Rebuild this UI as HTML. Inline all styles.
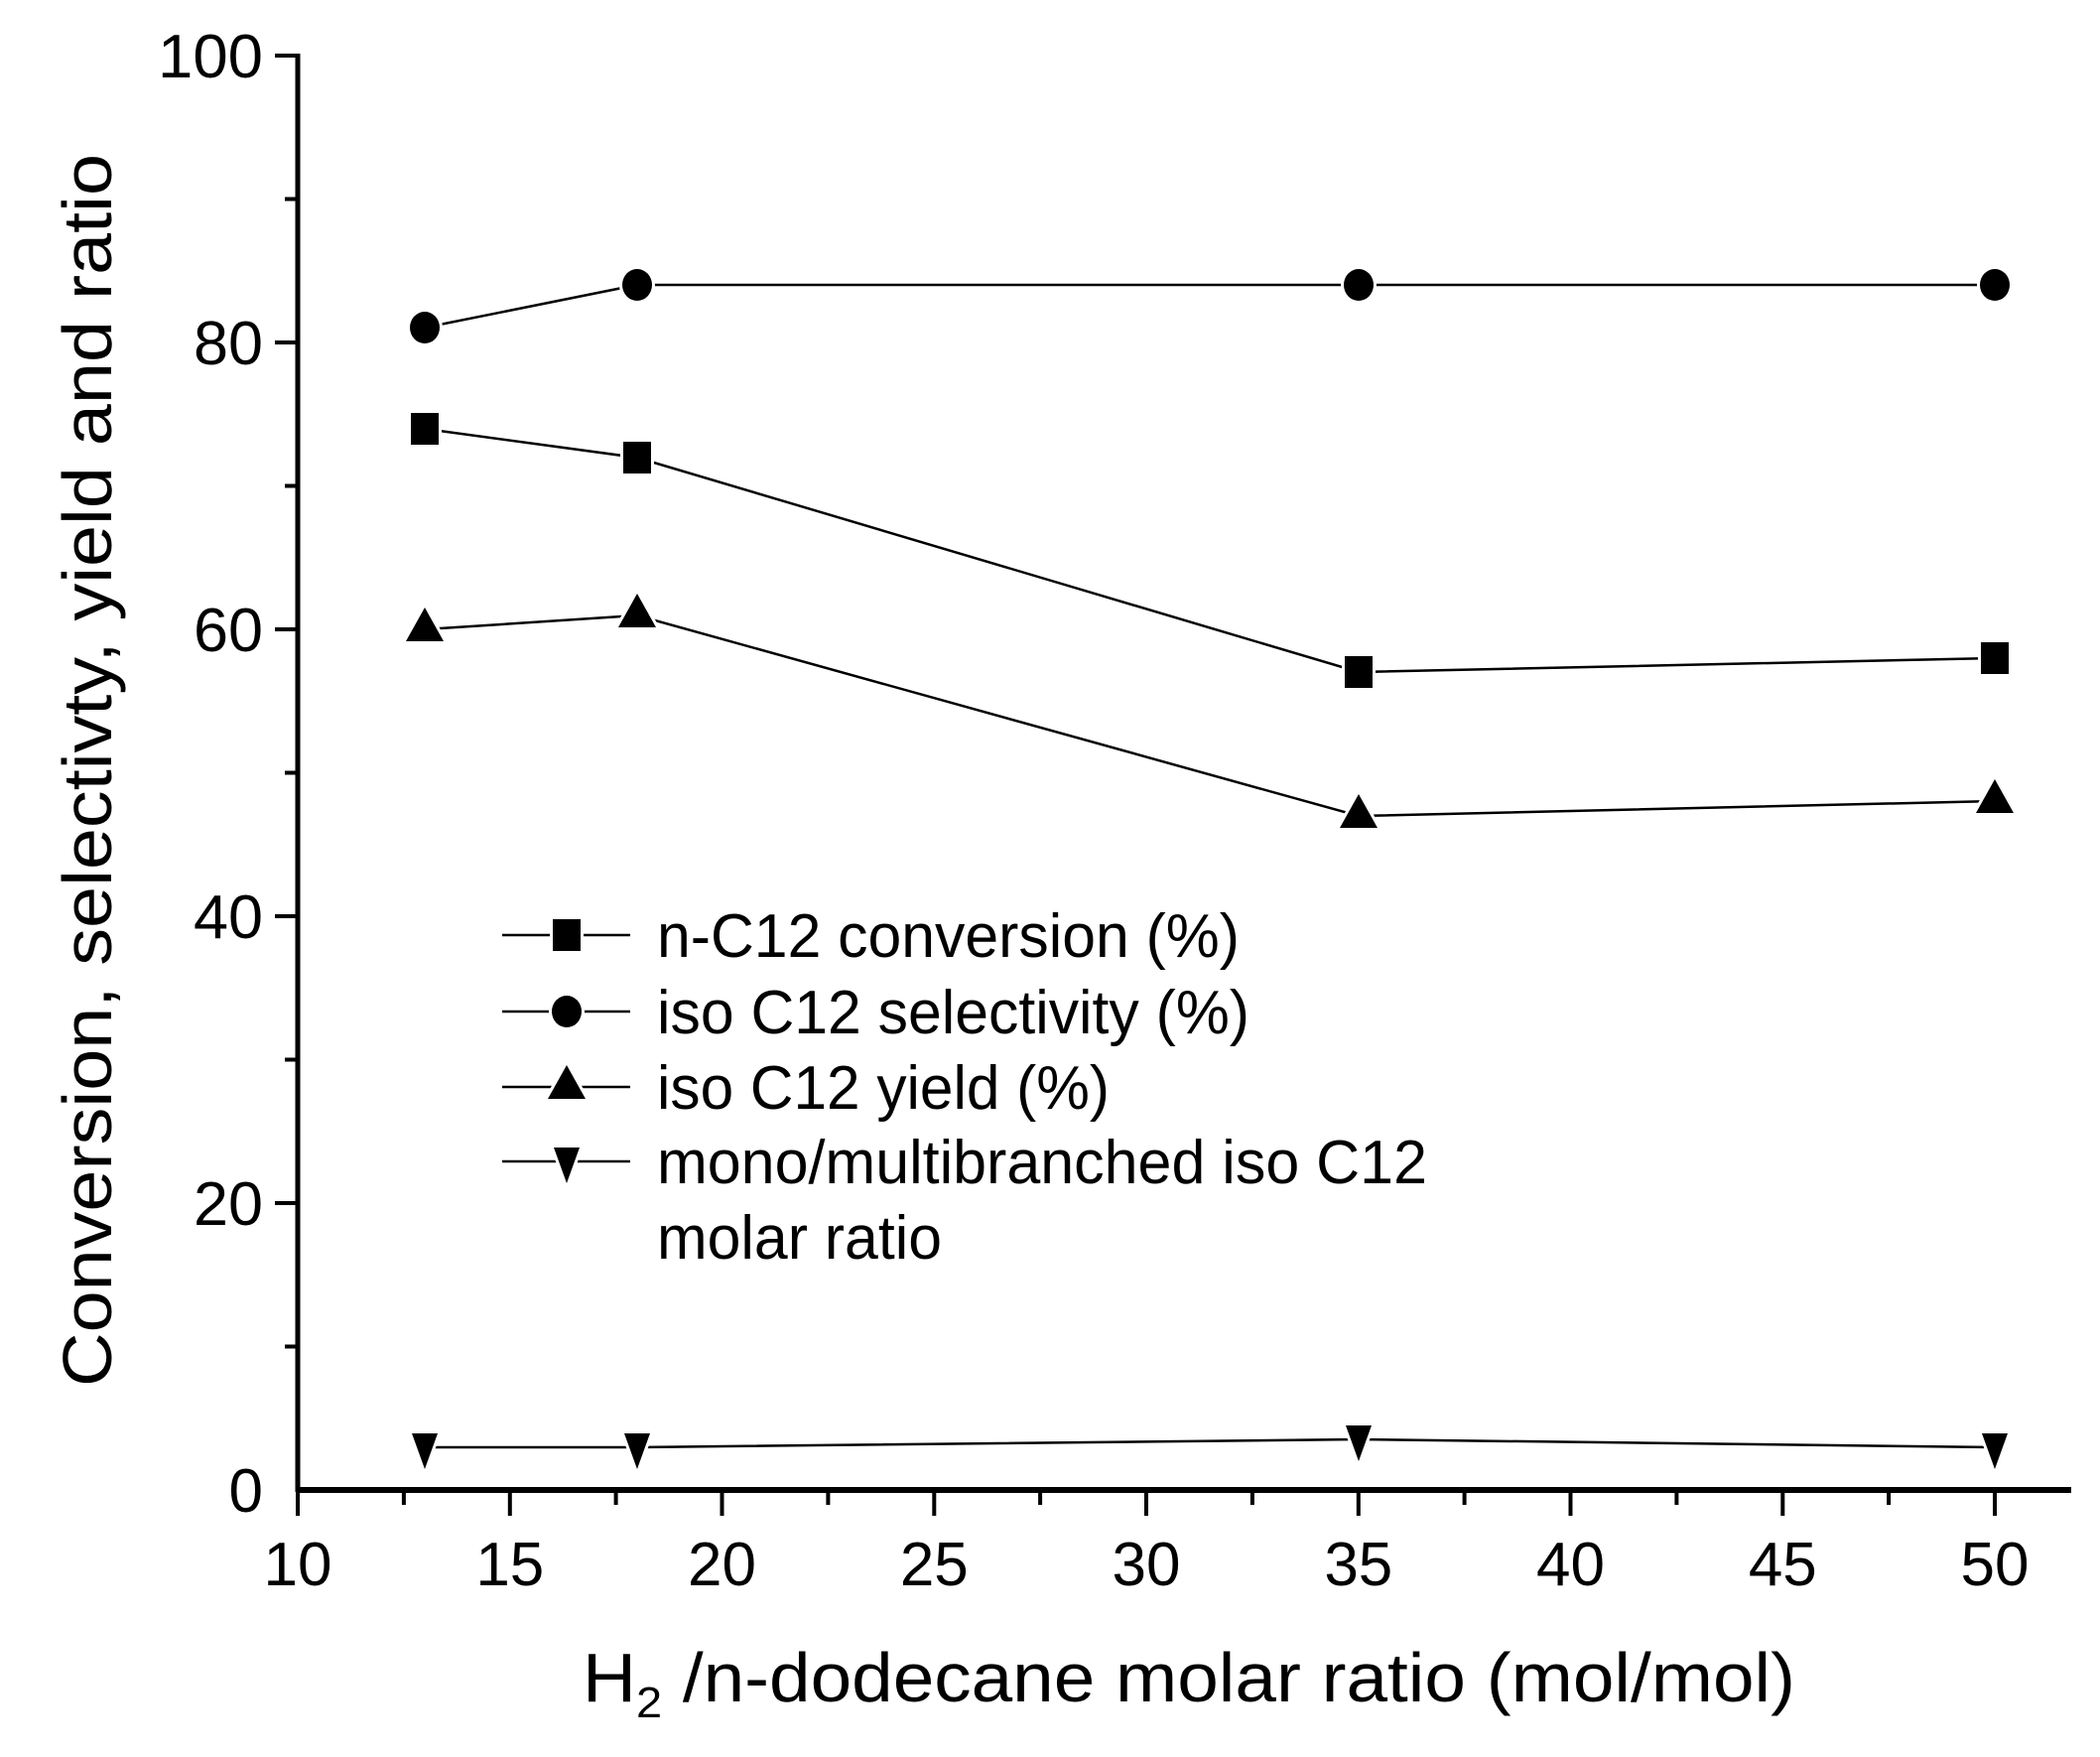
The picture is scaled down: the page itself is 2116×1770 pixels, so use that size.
<!DOCTYPE html>
<html><head><meta charset="utf-8"><style>html,body{margin:0;padding:0;background:#fff}svg{display:block}</style></head>
<body>
<svg width="2116" height="1770" viewBox="0 0 2116 1770" xmlns="http://www.w3.org/2000/svg" font-family="Liberation Sans, Arial, sans-serif">
<defs>
<g id="sq"><rect x="-14" y="-16" width="28" height="32" fill="#000" stroke="#fff" stroke-width="6" paint-order="stroke"/></g>
<g id="ci"><ellipse cx="0" cy="0" rx="15" ry="16" fill="#000" stroke="#fff" stroke-width="6" paint-order="stroke"/></g>
<g id="tu"><polygon points="0,-19 19,15 -19,15" fill="#000" stroke="#fff" stroke-width="6" paint-order="stroke" stroke-linejoin="round"/></g>
<g id="td"><polygon points="0,20 -13,-16 13,-16" fill="#000" stroke="#fff" stroke-width="6" paint-order="stroke" stroke-linejoin="round"/></g>
</defs>
<g stroke="#000" fill="none">
<line x1="300" y1="54" x2="300" y2="1503" stroke-width="5"/>
<line x1="298" y1="1501" x2="2087" y2="1501" stroke-width="6"/>
<g stroke-width="4">
<line x1="277" y1="56" x2="300" y2="56"/><line x1="277" y1="345" x2="300" y2="345"/><line x1="277" y1="634" x2="300" y2="634"/><line x1="277" y1="923" x2="300" y2="923"/><line x1="277" y1="1212" x2="300" y2="1212"/>
<line x1="287" y1="200.5" x2="300" y2="200.5"/><line x1="287" y1="489.5" x2="300" y2="489.5"/><line x1="287" y1="778.5" x2="300" y2="778.5"/><line x1="287" y1="1067.5" x2="300" y2="1067.5"/><line x1="287" y1="1356.5" x2="300" y2="1356.5"/>
<line x1="300" y1="1501" x2="300" y2="1527"/><line x1="513.8" y1="1501" x2="513.8" y2="1527"/><line x1="727.5" y1="1501" x2="727.5" y2="1527"/><line x1="941.3" y1="1501" x2="941.3" y2="1527"/><line x1="1155" y1="1501" x2="1155" y2="1527"/><line x1="1368.8" y1="1501" x2="1368.8" y2="1527"/><line x1="1582.5" y1="1501" x2="1582.5" y2="1527"/><line x1="1796.3" y1="1501" x2="1796.3" y2="1527"/><line x1="2010" y1="1501" x2="2010" y2="1527"/>
<line x1="406.9" y1="1501" x2="406.9" y2="1516"/><line x1="620.6" y1="1501" x2="620.6" y2="1516"/><line x1="834.4" y1="1501" x2="834.4" y2="1516"/><line x1="1048.1" y1="1501" x2="1048.1" y2="1516"/><line x1="1261.9" y1="1501" x2="1261.9" y2="1516"/><line x1="1475.6" y1="1501" x2="1475.6" y2="1516"/><line x1="1689.4" y1="1501" x2="1689.4" y2="1516"/><line x1="1903.1" y1="1501" x2="1903.1" y2="1516"/>
</g>
<g stroke-width="2.5">
<polyline points="428,432 642,461 1369,677 2010,663"/>
<polyline points="428,330 642,287 1369,287 2010,287"/>
<polyline points="428,634 642,620 1369,822 2010,807"/>
<polyline points="428,1458 642,1458 1369,1450 2010,1458"/>
<line x1="506" y1="942" x2="635" y2="942"/><line x1="506" y1="1019" x2="635" y2="1019"/><line x1="506" y1="1095" x2="635" y2="1095"/><line x1="506" y1="1170" x2="635" y2="1170"/>
</g>
</g>
<use href="#sq" x="428" y="432"/><use href="#sq" x="642" y="461"/><use href="#sq" x="1369" y="677"/><use href="#sq" x="2010" y="663"/>
<use href="#ci" x="428" y="330"/><use href="#ci" x="642" y="287"/><use href="#ci" x="1369" y="287"/><use href="#ci" x="2010" y="287"/>
<use href="#tu" x="428" y="631"/><use href="#tu" x="642" y="617"/><use href="#tu" x="1369" y="819"/><use href="#tu" x="2010" y="804"/>
<use href="#td" x="428" y="1460"/><use href="#td" x="642" y="1460"/><use href="#td" x="1369" y="1452"/><use href="#td" x="2010" y="1460"/>
<use href="#sq" x="571" y="942"/><use href="#ci" x="571" y="1019"/><use href="#tu" x="571" y="1092"/><use href="#td" x="571" y="1172"/>
<g font-size="62" text-anchor="end">
<text x="265" y="78" textLength="106" lengthAdjust="spacingAndGlyphs">100</text><text x="265" y="367" textLength="70" lengthAdjust="spacingAndGlyphs">80</text><text x="265" y="656" textLength="70" lengthAdjust="spacingAndGlyphs">60</text><text x="265" y="945" textLength="70" lengthAdjust="spacingAndGlyphs">40</text><text x="265" y="1234" textLength="70" lengthAdjust="spacingAndGlyphs">20</text><text x="265" y="1523">0</text>
</g>
<g font-size="62" text-anchor="middle">
<text x="300" y="1597">10</text><text x="513.8" y="1597">15</text><text x="727.5" y="1597">20</text><text x="941.3" y="1597">25</text><text x="1155" y="1597">30</text><text x="1368.8" y="1597">35</text><text x="1582.5" y="1597">40</text><text x="1796.3" y="1597">45</text><text x="2010" y="1597">50</text>
</g>
<g font-size="62">
<text x="662" y="964" textLength="587" lengthAdjust="spacingAndGlyphs">n-C12 conversion (%)</text>
<text x="662" y="1041" textLength="597" lengthAdjust="spacingAndGlyphs">iso C12 selectivity (%)</text>
<text x="662" y="1117" textLength="456" lengthAdjust="spacingAndGlyphs">iso C12 yield (%)</text>
<text x="662" y="1192" textLength="776" lengthAdjust="spacingAndGlyphs">mono/multibranched iso C12</text>
<text x="662" y="1268" textLength="287" lengthAdjust="spacingAndGlyphs">molar ratio</text>
</g>
<text x="587" y="1714" font-size="70" textLength="1222" lengthAdjust="spacingAndGlyphs">H<tspan font-size="44" dy="16">2</tspan><tspan dy="-16"> /n-dodecane molar ratio (mol/mol)</tspan></text>
<text transform="translate(112,776) rotate(-90)" text-anchor="middle" font-size="70" textLength="1242" lengthAdjust="spacingAndGlyphs">Conversion, selectivty, yield and ratio</text>
</svg>
</body></html>
